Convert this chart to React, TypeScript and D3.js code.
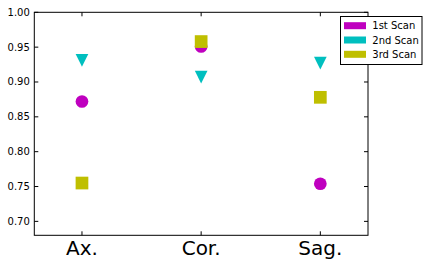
import React from 'react';
import * as d3 from 'd3';

const categories = ['Ax.', 'Cor.', 'Sag.'];
const scan1 = [0.872, 0.951, 0.754];
const scan2 = [0.931, 0.907, 0.927];
const scan3 = [0.755, 0.958, 0.878];
const seriesNames = ['1st Scan', '2nd Scan', '3rd Scan'];
const yTicks = [0.7, 0.75, 0.8, 0.85, 0.9, 0.95, 1.0];

const W = 429, H = 265;
const margin = {top: 12.3, right: 61, bottom: 30, left: 34.3};
const colors = ['#bf00bf', '#00bfbf', '#bfbf00'];
const font = 'DejaVu Sans, sans-serif';

export default function App() {
  const x = d3.scaleLinear().domain([-0.4, 2.4]).range([margin.left, W - margin.right]);
  const y = d3.scaleLinear().domain([0.68, 1.0]).range([H - margin.bottom + 0.3, margin.top]);
  const [x0, x1] = x.range();
  const [y0, y1] = y.range();
  const s = 12.7; // marker size

  const circle = (d: number, i: number) => (
    <circle key={'c' + i} cx={x(i)} cy={y(d)} r={s / 2} fill={colors[0]} />
  );
  const tri = (d: number, i: number) => {
    const cx = x(i), cy = y(d);
    return <path key={'t' + i} d={`M${cx - s / 2},${cy - s / 2}L${cx + s / 2},${cy - s / 2}L${cx},${cy + s / 2}Z`} fill={colors[1]} />;
  };
  const sq = (d: number, i: number) => (
    <rect key={'s' + i} x={x(i) - s / 2} y={y(d) - s / 2} width={s} height={s} fill={colors[2]} />
  );

  return (
    <svg width={W} height={H} style={{position: 'absolute', left: 0, top: 0, background: '#fff'}}>
      <rect x={0} y={0} width={W} height={H} fill="#fff" />
      {scan1.map(circle)}
      {scan2.map(tri)}
      {scan3.map(sq)}
      {/* frame */}
      <rect x={x0} y={y1} width={x1 - x0} height={y0 - y1} fill="none" stroke="#000" strokeWidth={1} />
      {/* y ticks */}
      {yTicks.map(t => (
        <g key={t}>
          <line x1={x0} x2={x0 + 4} y1={y(t)} y2={y(t)} stroke="#000" />
          <line x1={x1} x2={x1 - 4} y1={y(t)} y2={y(t)} stroke="#000" />
          <text x={x0 - 4.5} y={y(t)} dy="0.35em" textAnchor="end" fontFamily={font} fontSize={10} fill="#000">
            {d3.format('.2f')(t)}
          </text>
        </g>
      ))}
      {/* x ticks */}
      {categories.map((c, i) => (
        <g key={c}>
          <line x1={x(i)} x2={x(i)} y1={y0} y2={y0 - 4} stroke="#000" />
          <line x1={x(i)} x2={x(i)} y1={y1} y2={y1 + 4} stroke="#000" />
          <text x={x(i)} y={y0 + 20} textAnchor="middle" fontFamily={font} fontSize={20} fill="#000">{c}</text>
        </g>
      ))}
      {/* legend */}
      <g>
        <rect x={340.5} y={16.5} width={81.5} height={48} fill="#fff" stroke="#000" strokeWidth={1} />
        {seriesNames.map((n, i) => (
          <g key={n}>
            <rect x={344} y={22.2 + i * 14.3} width={22} height={7} fill={colors[i]} />
            <text x={372.3} y={25.7 + i * 14.3} dy="0.35em" fontFamily={font} fontSize={10} fill="#000">{n}</text>
          </g>
        ))}
      </g>
    </svg>
  );
}
